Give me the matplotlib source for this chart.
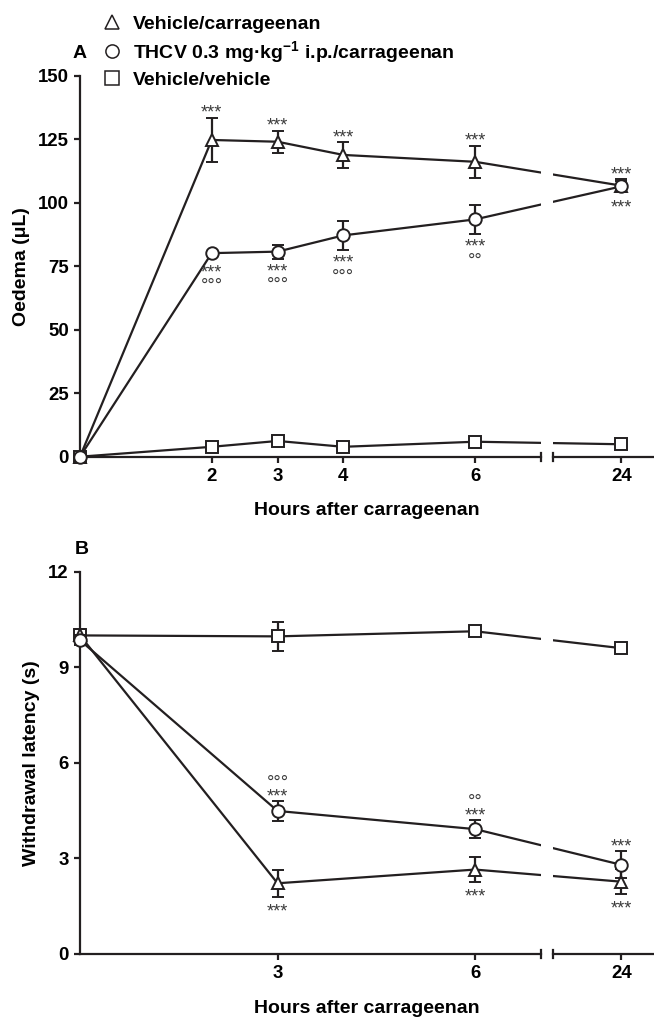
import matplotlib
matplotlib.use("Agg")
import matplotlib.pyplot as plt
from matplotlib.lines import Line2D
from matplotlib.patches import Rectangle

plt.rcParams['font.family'] = ['Liberation Sans', 'DejaVu Sans']
plt.rcParams['mathtext.fontset'] = 'custom'
plt.rcParams['mathtext.bf'] = 'Liberation Sans:bold'
plt.rcParams['mathtext.rm'] = 'Liberation Sans:bold'
plt.rcParams['mathtext.default'] = 'bf'

INK = '#231f20'
STAR = '#3c3c3c'

# ---- panel A: paw oedema (uL)
hours_a = [0, 2, 3, 4, 6, 24]
veh_car_a = [0, 124.8, 124.1, 118.9, 116.2, 106.8]
veh_car_a_err = [0, 8.7, 4.3, 5.0, 6.3, 2.5]
thcv_a = [0, 80.2, 80.8, 87.2, 93.5, 106.5]
thcv_a_err = [0, 0.5, 2.8, 5.8, 5.8, 2.0]
veh_veh_a = [0, 3.9, 6.2, 3.9, 5.9, 4.9]
veh_veh_a_err = [0, 0.8, 0.8, 0.8, 0.8, 0.8]
veh_car_a_stars = ['', '***', '***', '***', '***', '***']   # above
thcv_a_stars = ['', '***', '***', '***', '***', '***']      # below
thcv_a_rings = [0, 3, 3, 3, 2, 0]

# ---- panel B: withdrawal latency (s)
hours_b = [0, 3, 6, 24]
veh_car_b = [10.0, 2.22, 2.65, 2.27]
veh_car_b_err = [0.2, 0.42, 0.39, 0.4]
thcv_b = [9.85, 4.49, 3.92, 2.80]
thcv_b_err = [0.15, 0.3, 0.28, 0.43]
veh_veh_b = [10.0, 9.97, 10.13, 9.60]
veh_veh_b_err = [0.2, 0.45, 0.1, 0.13]
veh_car_b_stars = ['', '***', '***', '***']   # below
thcv_b_stars = ['', '***', '***', '***']      # above
thcv_b_rings = [0, 3, 2, 0]

labels = ['Vehicle/carrageenan',
          'THCV 0.3 mg\u00b7kg$^{-1}$ i.p./carrageenan',
          'Vehicle/vehicle']

W, H = 654, 1019
X0, PXH = 80, 65.85          # pixel of hour 0, pixels per hour
L_END, R_START, R_END, POS24 = 7.0, 7.18, 8.72, 8.22
LINE_PX = 12                 # baseline step between stars and rings


def brk(h):
    # broken time axis: 24 h sits just after the break
    return h if h <= L_END else h - 24 + POS24


def box(x0, y0, x1, y1):
    return [x0 / W, 1 - y1 / H, (x1 - x0) / W, (y1 - y0) / H]


def make_axes(fig, top, bottom):
    axl = fig.add_axes(box(X0, top, X0 + L_END * PXH, bottom))
    axr = fig.add_axes(box(X0 + R_START * PXH, top, X0 + R_END * PXH, bottom))
    axl.set_xlim(0, L_END)
    axr.set_xlim(R_START, R_END)
    for ax in (axl, axr):
        ax.spines[['top', 'right']].set_visible(False)
        for s in ax.spines.values():
            s.set_linewidth(1.6)
            s.set_color(INK)
        ax.tick_params(length=4, width=1.6, color=INK, labelsize=13.4, pad=4)
    axr.spines['left'].set_visible(False)
    axr.set_yticks([])
    # break marks
    axl.plot([1, 1], [-0.011, 0.011], transform=axl.transAxes, color=INK,
             lw=1.6, clip_on=False)
    axr.plot([0, 0], [-0.011, 0.011], transform=axr.transAxes, color=INK,
             lw=1.6, clip_on=False)
    return axl, axr


def draw_series(axl, axr, hours, vals, errs, marker, z):
    xs = [brk(h) for h in hours]
    for ax in (axl, axr):
        ln, = ax.plot(xs, vals, color=INK, lw=1.6, zorder=2)
        if ax is axl:
            ln.set_clip_path(Rectangle((-0.1, -0.1), 1.1, 1.2,
                                       transform=ax.transAxes))
    for ax, keep in ((axl, lambda h: h <= L_END), (axr, lambda h: h > L_END)):
        idx = [i for i, h in enumerate(hours) if keep(h)]
        ax.errorbar([xs[i] for i in idx], [vals[i] for i in idx],
                    yerr=[errs[i] for i in idx], fmt=marker, ms=9,
                    mfc='white', mec=INK, mew=1.4, ecolor=INK,
                    elinewidth=1.6, capsize=4.5, capthick=1.6,
                    clip_on=False, zorder=z)


def mark(ax, h, y, err, stars, rings, side):
    # stars (and rings) stacked beyond the end of the error bar;
    # va='baseline' pins the baseline of the last line
    if not stars:
        return
    x = brk(h)
    p0 = ax.transData.transform((x, y))[1]
    p1 = ax.transData.transform((x, y + err))[1]
    edge = max(abs(p1 - p0), 6.5)
    ring_txt = '\u00b0' * rings
    if side > 0:
        text = ring_txt + '\n' + stars if rings else stars
        base = edge
    else:
        text = stars + '\n' + ring_txt if rings else stars
        base = -(edge + 19.5) - (LINE_PX if rings else 0)
    ax.annotate(text, (x, y), xytext=(0, base * 0.72), textcoords='offset points',
                ha='center', va='baseline', fontsize=13, color=STAR,
                linespacing=0.75, multialignment='center', annotation_clip=False)


def bold_ticks(*axes):
    for ax in axes:
        for t in ax.get_xticklabels() + ax.get_yticklabels():
            t.set_fontweight('bold')


fig = plt.figure(figsize=(6.54, 10.19), dpi=100)

# ---------------- panel A
axl, axr = make_axes(fig, 76, 456.7)
axl.set_ylim(0, 150)
axr.set_ylim(0, 150)
axl.set_yticks([0, 25, 50, 75, 100, 125, 150])
axl.set_xticks([2, 3, 4, 6])
axr.set_xticks([brk(24)])
axr.set_xticklabels(['24'])
bold_ticks(axl, axr)
draw_series(axl, axr, hours_a, veh_veh_a, veh_veh_a_err, 's', 3)
draw_series(axl, axr, hours_a, veh_car_a, veh_car_a_err, '^', 4)
draw_series(axl, axr, hours_a, thcv_a, thcv_a_err, 'o', 5)
for i, h in enumerate(hours_a):
    ax = axl if h <= L_END else axr
    mark(ax, h, veh_car_a[i], veh_car_a_err[i], veh_car_a_stars[i], 0, 1)
    mark(ax, h, thcv_a[i], -thcv_a_err[i], thcv_a_stars[i], thcv_a_rings[i], -1)
axl.set_ylabel('Oedema (\u03bcL)', fontsize=14, fontweight='bold', labelpad=6)
axl.set_xlabel('Hours after carrageenan', fontsize=14, fontweight='bold')
axl.xaxis.set_label_coords((367 - X0) / (L_END * PXH), -0.118)
fig.text(80 / W, 1 - 53 / H, 'A', fontsize=14, fontweight='bold',
         ha='center', va='center')

# ---------------- panel B
bxl, bxr = make_axes(fig, 571.7, 954)
bxl.set_ylim(0, 12)
bxr.set_ylim(0, 12)
bxl.set_yticks([0, 3, 6, 9, 12])
bxl.set_xticks([3, 6])
bxr.set_xticks([brk(24)])
bxr.set_xticklabels(['24'])
bold_ticks(bxl, bxr)
draw_series(bxl, bxr, hours_b, veh_veh_b, veh_veh_b_err, 's', 3)
draw_series(bxl, bxr, hours_b, veh_car_b, veh_car_b_err, '^', 4)
draw_series(bxl, bxr, hours_b, thcv_b, thcv_b_err, 'o', 5)
for i, h in enumerate(hours_b):
    ax = bxl if h <= L_END else bxr
    mark(ax, h, veh_car_b[i], -veh_car_b_err[i], veh_car_b_stars[i], 0, -1)
    mark(ax, h, thcv_b[i], thcv_b_err[i], thcv_b_stars[i], thcv_b_rings[i], 1)
bxl.set_ylabel('Withdrawal latency (s)', fontsize=14, fontweight='bold', labelpad=6)
bxl.set_xlabel('Hours after carrageenan', fontsize=14, fontweight='bold')
bxl.xaxis.set_label_coords((367 - X0) / (L_END * PXH), -0.12)
fig.text(82 / W, 1 - 550 / H, 'B', fontsize=14, fontweight='bold',
         ha='center', va='center')

# ---------------- legend
handles = [Line2D([], [], ls='none', marker=m, ms=9.5, mfc='white', mec=INK, mew=1.1)
           for m in ('^', 'o', 's')]
fig.legend(handles, labels, loc='upper left', bbox_to_anchor=(102 / W, 1 - 15 / H),
           frameon=False, handlelength=1.0, handletextpad=0.6, borderpad=0,
           borderaxespad=0, labelspacing=0.32,
           prop={'size': 14, 'weight': 'bold'})

fig.savefig('out.png', dpi=100)
